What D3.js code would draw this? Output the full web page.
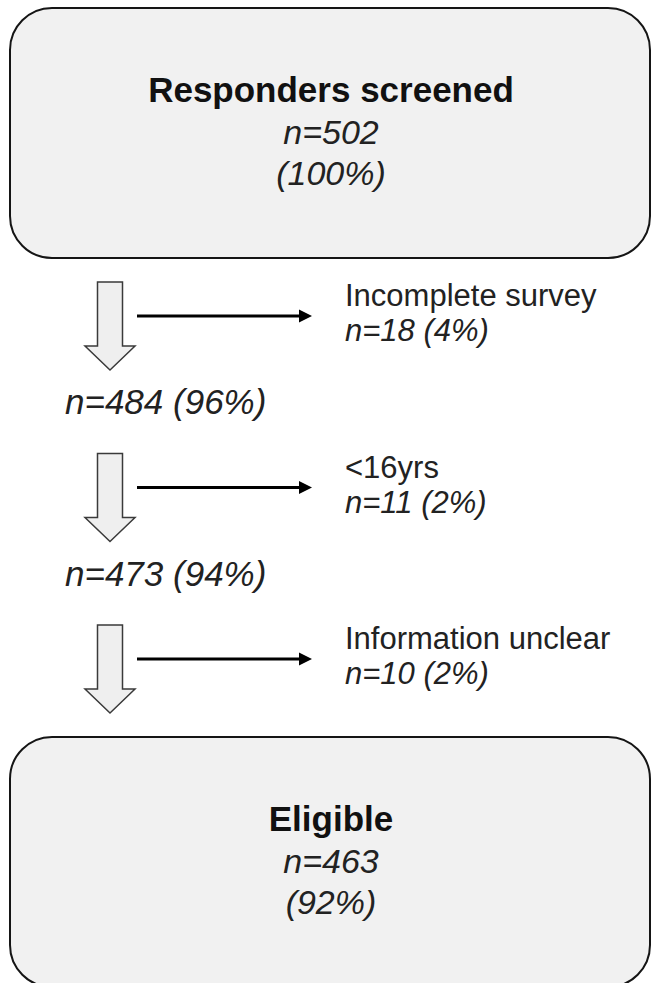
<!DOCTYPE html>
<html>
<head>
<meta charset="utf-8">
<script src="https://cdn.jsdelivr.net/npm/d3@7"></script>
<style>
  html, body { margin: 0; padding: 0; background: #ffffff; overflow: hidden; }
  svg { display: block; }
</style>
</head>
<body>
<script>
// ---- data ----
const boxTitles = ["Responders screened", "Eligible"];
const boxCounts = [502, 463];
const boxPercents = [100, 92];
const stepCounts = [484, 473];
const stepPercents = [96, 94];
const exclusionLabels = ["Incomplete survey", "<16yrs", "Information unclear"];
const exclusionCounts = [18, 11, 10];
const exclusionPercents = [4, 2, 2];

// ---- layout ----
const W = 651, H = 983;
const svg = d3.select("body").append("svg").attr("width", W).attr("height", H);
const FONT = "'Liberation Sans', Arial, Helvetica, sans-serif";

// vertical position of each exclusion step
const stepY = d3.scaleLinear().domain([0, exclusionLabels.length - 1]).range([282, 625]);
// box positions
const boxY = d3.scaleOrdinal().domain(boxTitles).range([8, 737]);
const boxX = d3.scaleLinear().domain([0, 1]).range([10, 650]);
const boxH = 250;

// boxes
const boxes = svg.selectAll("g.box").data(boxTitles).join("g").attr("class", "box");
boxes.append("rect")
  .attr("x", boxX(0)).attr("y", d => boxY(d))
  .attr("width", boxX(1) - boxX(0)).attr("height", boxH)
  .attr("rx", 42).attr("ry", 42)
  .attr("fill", "#f1f1f1").attr("stroke", "#151515").attr("stroke-width", 2);

const cx = (boxX(0) + boxX(1)) / 2 + 1;
boxes.append("text")
  .attr("x", cx).attr("y", d => boxY(d) + 94)
  .attr("text-anchor", "middle")
  .attr("font-family", FONT).attr("font-weight", "bold").attr("font-size", 35)
  .attr("fill", "#111")
  .text(d => d);
boxes.append("text")
  .attr("x", cx).attr("y", (d, i) => boxY(d) + 136)
  .attr("text-anchor", "middle")
  .attr("font-family", FONT).attr("font-style", "italic").attr("font-size", 34)
  .attr("fill", "#222")
  .text((d, i) => "n=" + boxCounts[i]);
boxes.append("text")
  .attr("x", cx).attr("y", (d, i) => boxY(d) + 177)
  .attr("text-anchor", "middle")
  .attr("font-family", FONT).attr("font-style", "italic").attr("font-size", 34)
  .attr("fill", "#222")
  .text((d, i) => "(" + boxPercents[i] + "%)");

// block arrows
const ax = 110, shaftHalf = 12.5, headHalf = 25, shaftLen = 64, headLen = 24;
const steps = svg.selectAll("g.step").data(exclusionLabels).join("g").attr("class", "step");
steps.append("path")
  .attr("d", (d, i) => {
    const y0 = stepY(i);
    return d3.line()([
      [ax - shaftHalf, y0], [ax + shaftHalf, y0], [ax + shaftHalf, y0 + shaftLen],
      [ax + headHalf, y0 + shaftLen], [ax, y0 + shaftLen + headLen],
      [ax - headHalf, y0 + shaftLen], [ax - shaftHalf, y0 + shaftLen]
    ]) + "Z";
  })
  .attr("fill", "#efefef").attr("stroke", "#3a3a3a").attr("stroke-width", 1.5)
  .attr("stroke-linejoin", "miter");

// horizontal arrows
const lx0 = 137, lx1 = 312, lineOff = 34;
steps.append("line")
  .attr("x1", lx0).attr("x2", lx1 - 10)
  .attr("y1", (d, i) => stepY(i) + lineOff).attr("y2", (d, i) => stepY(i) + lineOff)
  .attr("stroke", "#000").attr("stroke-width", 3);
steps.append("path")
  .attr("d", (d, i) => {
    const y = stepY(i) + lineOff;
    return d3.line()([[lx1 - 13, y - 6.5], [lx1, y], [lx1 - 13, y + 6.5]]) + "Z";
  })
  .attr("fill", "#000");

// exclusion labels
steps.append("text")
  .attr("x", 345).attr("y", (d, i) => stepY(i) + lineOff - 10)
  .attr("font-family", FONT).attr("font-size", 31).attr("fill", "#222")
  .text(d => d);
steps.append("text")
  .attr("x", 345).attr("y", (d, i) => stepY(i) + lineOff + 25)
  .attr("font-family", FONT).attr("font-style", "italic").attr("font-size", 31).attr("fill", "#222")
  .text((d, i) => "n=" + exclusionCounts[i] + " (" + exclusionPercents[i] + "%)");

// remaining counts after each step
svg.selectAll("text.remain").data(stepCounts).join("text")
  .attr("class", "remain")
  .attr("x", 65).attr("y", (d, i) => stepY(i) + 132)
  .attr("font-family", FONT).attr("font-style", "italic").attr("font-size", 35).attr("fill", "#222")
  .text((d, i) => "n=" + d + " (" + stepPercents[i] + "%)");
</script>
</body>
</html>
